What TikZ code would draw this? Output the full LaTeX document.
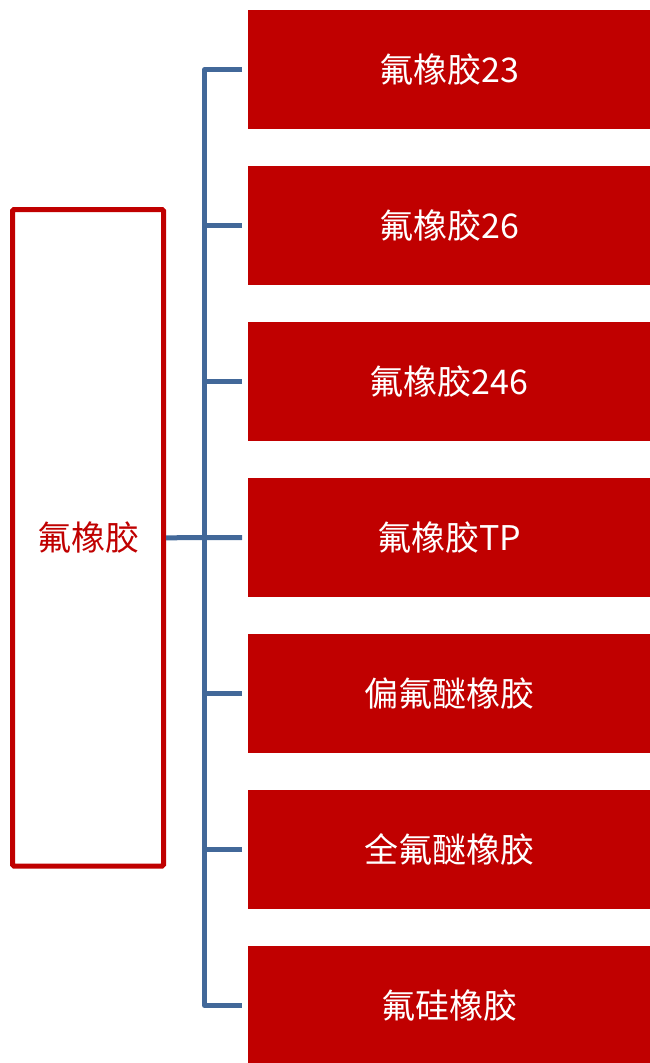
\documentclass[tikz,border=0pt]{standalone}
\usepackage{fontspec}
\newfontfamily\cjk{Noto Sans CJK SC}
\definecolor{boxred}{RGB}{192,0,0}
\definecolor{linkblue}{RGB}{66,104,153}
\tikzset{
  item/.style={fill=boxred, draw=none, minimum width=402pt, minimum height=119pt, inner sep=0pt, anchor=north west,
    text=white, font=\cjk\fontsize{34}{40}\selectfont},
  mainbox/.style={draw=boxred, line width=5pt, fill=white, minimum width=151pt, minimum height=656.5pt, inner sep=0pt,
    rounded corners=1.5pt, text=boxred, font=\cjk\fontsize{34}{40}\selectfont},
  conn/.style={draw=linkblue, line width=5pt, line join=round}
}
\begin{document}
\begin{tikzpicture}[x=1pt,y=-1pt]
\useasboundingbox (0,0) rectangle (650,1063);
\node[item] (b1) at (248,10) {氟橡胶23};
\node[item] (b2) at (248,166) {氟橡胶26};
\node[item] (b3) at (248,322) {氟橡胶246};
\node[item] (b4) at (248,478) {氟橡胶TP};
\node[item] (b5) at (248,634) {偏氟醚橡胶};
\node[item] (b6) at (248,790) {全氟醚橡胶};
\node[item, minimum height=125pt] (b7) at (248,946) {};
\node[text=white, font=\cjk\fontsize{34}{40}\selectfont] (t7) at (449,1005.5) {氟硅橡胶};
\node[mainbox] (main) at (88,537.75) {氟橡胶};
\coordinate (e7) at ([xshift=-6pt]b7.north west |- t7);
\draw[conn] ([xshift=-6pt]b1.west) -- ++(-37.5,0) |- (e7);
\draw[conn] ([xshift=-6pt]b2.west) -- ++(-37.5,0);
\draw[conn] ([xshift=-6pt]b3.west) -- ++(-37.5,0);
\draw[conn] ([xshift=-6pt]b5.west) -- ++(-37.5,0);
\draw[conn] ([xshift=-6pt]b6.west) -- ++(-37.5,0);
\draw[conn] (main.east) -- ([xshift=-6pt]b4.west);
\end{tikzpicture}
\end{document}
